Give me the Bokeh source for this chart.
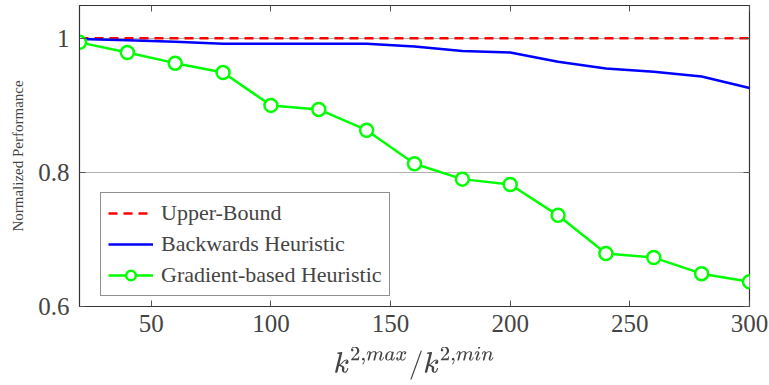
import numpy as np
from bokeh.plotting import figure
from bokeh.models import LinearAxis, FixedTicker, Range1d, Legend, LegendItem, CustomLabelingPolicy
from bokeh.embed import file_html
from bokeh.resources import INLINE

ratios = [20, 40, 60, 80, 100, 120, 140, 160, 180, 200, 220, 240, 260, 280, 300]
upper_bound = [1.0] * 15
backwards = [0.999, 0.997, 0.995, 0.992, 0.992, 0.992, 0.992, 0.988, 0.981, 0.979, 0.965, 0.955, 0.950, 0.943, 0.926]
gradient = [0.994, 0.979, 0.963, 0.949, 0.900, 0.894, 0.863, 0.813, 0.790, 0.782, 0.736, 0.679, 0.673, 0.649, 0.637]
x_ticks = [50, 100, 150, 200, 250, 300]
y_ticks = [0.6, 0.8, 1.0]
y_tick_labels = {0.6: "0.6", 0.8: "0.8", 1.0: "1"}

FONT = "Liberation Serif"

p = figure(width=769, height=385, output_backend="svg", toolbar_location=None,
           x_range=Range1d(20, 300), y_range=Range1d(0.6, 1.049),
           min_border_left=79, min_border_right=20, min_border_top=5, min_border_bottom=79,
           x_axis_location="below", y_axis_location="left")
p.outline_line_color = "#333333"
p.outline_line_width = 1.2

p.xgrid.grid_line_color = None
p.ygrid.ticker = FixedTicker(ticks=y_ticks)
p.ygrid.grid_line_color = "#b0b0b0"
p.ygrid.grid_line_width = 1

xa = p.xaxis[0]
xa.ticker = FixedTicker(ticks=x_ticks)
xa.major_tick_in = 6
xa.major_tick_out = 0
xa.minor_tick_line_color = None
xa.major_label_text_font = FONT
xa.major_label_text_font_size = "25px"
xa.major_label_standoff = 8
xa.axis_label = r"$$k^{2,max}/k^{2,min}$$"
xa.axis_label_text_font_size = "23px"
xa.axis_label_standoff = 12
xa.axis_line_color = "#333333"
xa.major_tick_line_color = "#555555"

ya = p.yaxis[0]
ya.ticker = FixedTicker(ticks=y_ticks)
ya.major_label_overrides = y_tick_labels
ya.major_tick_in = 6
ya.major_tick_out = 0
ya.minor_tick_line_color = None
ya.major_label_text_font = FONT
ya.major_label_text_font_size = "25px"
ya.major_label_standoff = 10
ya.axis_label = "Normalized Performance"
ya.axis_label_text_font = FONT
ya.axis_label_text_font_style = "normal"
ya.axis_label_text_font_size = "15px"
ya.axis_label_standoff = 9
ya.axis_line_color = "#333333"
ya.major_tick_line_color = "#555555"

no_labels_code = """
try { indices.clear() } catch (e) { for (const i of Array.from(indices)) indices.unset(i) }
return indices
"""

top = LinearAxis(ticker=FixedTicker(ticks=x_ticks), major_tick_in=6, major_tick_out=0,
                 minor_tick_line_color=None, major_label_policy=CustomLabelingPolicy(code=no_labels_code),
                 major_label_text_font_size="1px", major_label_standoff=0,
                 axis_line_color=None, major_tick_line_color="#555555")
p.add_layout(top, "above")
right = LinearAxis(ticker=FixedTicker(ticks=y_ticks), major_tick_in=6, major_tick_out=0,
                   minor_tick_line_color=None, major_label_policy=CustomLabelingPolicy(code=no_labels_code),
                   major_label_text_font_size="1px", major_label_standoff=0,
                   axis_line_color=None, major_tick_line_color="#555555")
p.add_layout(right, "right")

r_ub = p.line(ratios, upper_bound, line_color="#ff0000", line_width=2.5, line_dash="9 6")
r_bw = p.line(ratios, backwards, line_color="#0000ff", line_width=2.5)
r_gl = p.line(ratios, gradient, line_color="#00ff00", line_width=2.5)
r_gm = p.scatter(ratios, gradient, marker="circle", size=13, line_color="#00ff00",
                 line_width=2.5, fill_color="white")

legend = Legend(items=[
    LegendItem(label="Upper-Bound", renderers=[r_ub]),
    LegendItem(label="Backwards Heuristic", renderers=[r_bw]),
    LegendItem(label="Gradient-based Heuristic", renderers=[r_gl, r_gm]),
], location=(21, 10))
legend.label_text_font = FONT
legend.label_text_font_size = "22px"
legend.border_line_color = "#222222"
legend.border_line_width = 1.2
legend.glyph_width = 45
legend.glyph_height = 24
legend.label_height = 24
legend.spacing = 5
legend.padding = 7
legend.margin = 0
legend.label_standoff = 8
legend.background_fill_alpha = 1.0
p.add_layout(legend, "center")

open("out.html", "w").write(file_html(p, INLINE))
